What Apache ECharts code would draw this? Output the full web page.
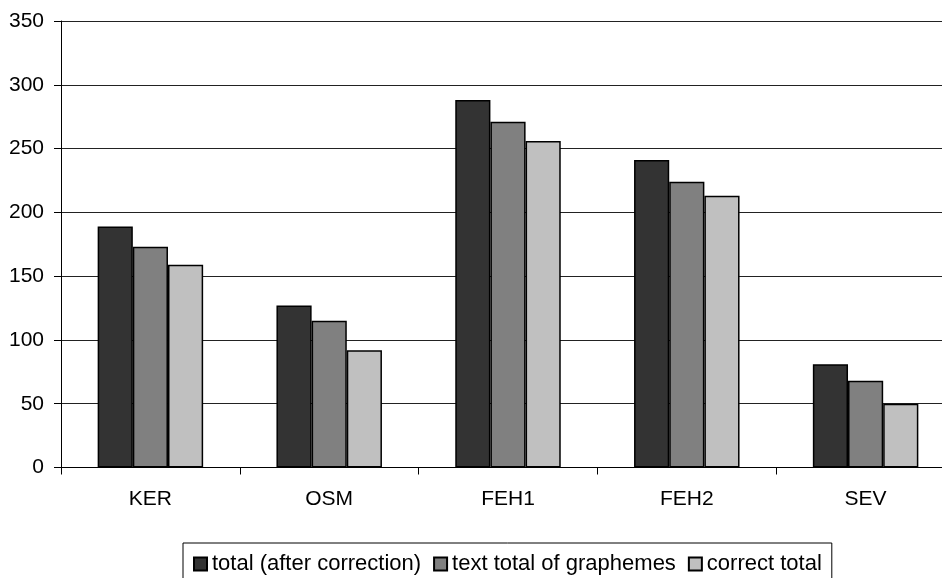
<!DOCTYPE html>
<html>
<head>
<meta charset="utf-8">
<script src="https://cdn.jsdelivr.net/npm/echarts@6/dist/echarts.min.js"></script>
<style>
  html, body { margin: 0; padding: 0; background: #fff; }
  #chart { width: 942px; height: 578px; }
</style>
</head>
<body>
<div id="chart"></div>
<script>
// Categories and series values
const categories = ['KER', 'OSM', 'FEH1', 'FEH2', 'SEV'];
const seriesNames = ['total (after correction)', 'text total of graphemes', 'correct total'];
const totalAfterCorrection = [189, 127, 288, 241, 81];
const textTotalGraphemes = [173, 115, 271, 224, 68];
const correctTotal = [159, 92, 256, 213, 50];
const seriesColors = ['#333333', '#808080', '#c0c0c0'];

const FONT = '"Liberation Sans", Arial, sans-serif';

const chart = echarts.init(document.getElementById('chart'), null, { renderer: 'canvas' });

const values = [totalAfterCorrection, textTotalGraphemes, correctTotal];

chart.setOption({
  animation: false,
  backgroundColor: '#ffffff',
  textStyle: { fontFamily: FONT, color: '#000' },
  // plot area runs past the right edge of the canvas
  grid: {
    left: 61, width: 894, top: 21, height: 446.5,
    containLabel: false,
    outerBoundsMode: 'none'
  },
  legend: {
    left: 183,
    top: 543,
    orient: 'horizontal',
    data: seriesNames,
    icon: 'rect',
    itemWidth: 13,
    itemHeight: 13,
    itemGap: 12,
    padding: [10, 10, 24, 10],
    borderColor: '#000',
    borderWidth: 1,
    borderRadius: 0,
    textStyle: { fontFamily: FONT, fontSize: 22, color: '#000' }
  },
  xAxis: {
    type: 'category',
    data: categories,
    boundaryGap: true,
    axisLine: { show: true, lineStyle: { color: '#000', width: 1 } },
    axisTick: { show: true, length: 7, lineStyle: { color: '#000' } },
    axisLabel: { fontFamily: FONT, fontSize: 21, color: '#000', margin: 21 },
    splitLine: { show: false }
  },
  yAxis: {
    type: 'value',
    min: 0,
    max: 350,
    interval: 50,
    axisLine: { show: true, lineStyle: { color: '#000', width: 1 } },
    axisTick: { show: true, length: 7, lineStyle: { color: '#000' } },
    axisLabel: { fontFamily: FONT, fontSize: 21, color: '#000', margin: 17 },
    splitLine: { show: true, lineStyle: { color: '#222', width: 1 } }
  },
  series: seriesNames.map((name, i) => ({
    name: name,
    type: 'bar',
    data: values[i],
    barGap: '0%',
    barCategoryGap: '41%',
    itemStyle: { color: seriesColors[i], borderColor: '#000', borderWidth: 1.5 }
  }))
});
</script>
</body>
</html>
